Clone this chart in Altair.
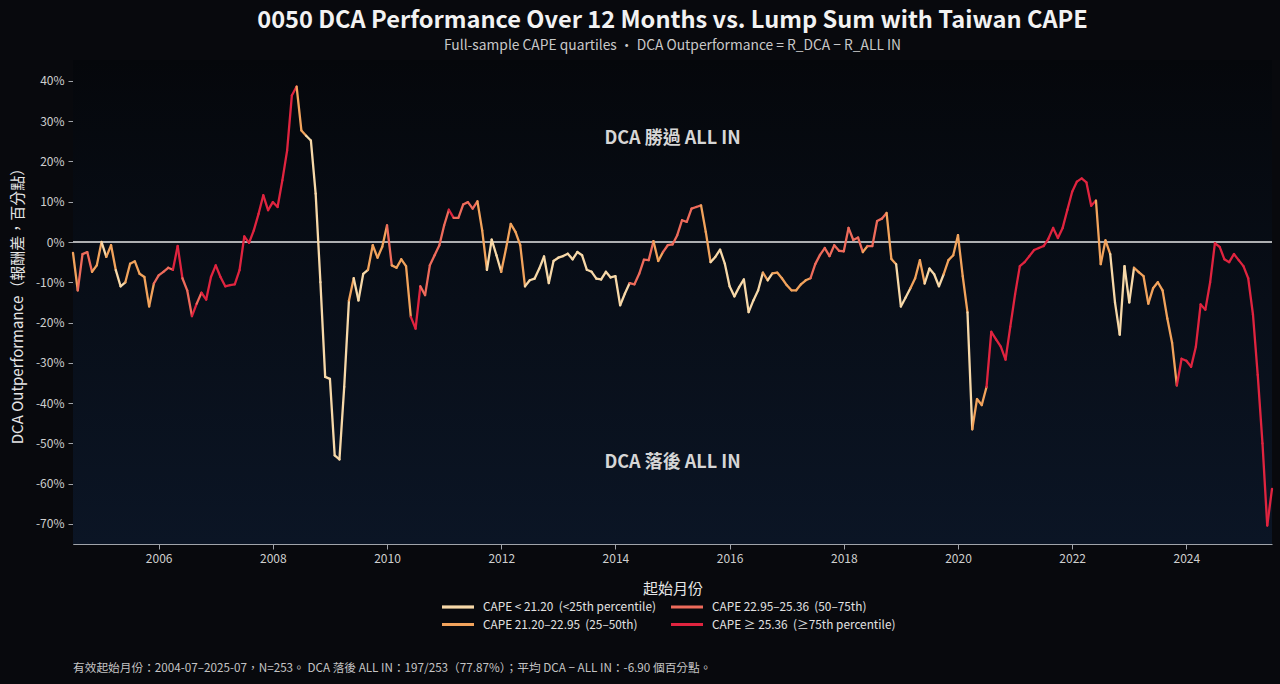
import altair as alt
import pandas as pd

FONT = "Noto Sans CJK TC"

# DCA - ALL IN, percentage points, one value per start month (2004-07 .. 2025-07)
values = [
    -2.7, -12.0, -3.0, -2.5, -7.4, -5.8, 0.0, -3.7, -0.8, -7.0,
    -11.0, -10.0, -5.4, -4.8, -7.9, -8.7, -16.0, -10.3, -8.3, -7.4,
    -6.4, -6.9, -1.0, -9.0, -12.0, -18.4, -15.3, -12.6, -14.3, -8.7,
    -5.8, -8.7, -11.0, -10.7, -10.5, -7.0, 1.4, -0.2, 2.9, 7.0,
    11.6, 7.9, 9.9, 8.7, 15.3, 22.7, 36.4, 38.6, 27.7, 26.4,
    25.2, 12.0, -10.0, -33.5, -34.0, -53.0, -54.0, -36.0, -14.5, -9.0,
    -14.5, -7.9, -6.9, -0.8, -3.9, -1.2, 4.1, -5.8, -6.4, -4.3,
    -6.0, -18.6, -21.5, -11.0, -13.2, -5.8, -3.3, -0.8, 4.1, 8.0,
    6.0, 6.0, 9.3, 9.9, 8.3, 10.1, 2.9, -6.9, 0.6, -3.3,
    -7.4, -1.7, 4.5, 2.5, -0.8, -11.0, -9.5, -9.1, -6.6, -3.6,
    -10.2, -4.7, -3.9, -3.5, -2.9, -4.3, -2.5, -3.3, -6.9, -7.4,
    -9.1, -9.3, -7.4, -8.8, -8.5, -15.7, -12.8, -10.2, -10.5, -7.9,
    -4.4, -4.5, 0.2, -4.7, -2.5, -0.8, -0.6, 1.7, 5.4, 5.0,
    8.3, 8.7, 9.1, 2.5, -5.0, -3.7, -1.9, -5.4, -11.0, -13.5,
    -11.2, -9.3, -17.4, -14.5, -12.0, -7.6, -9.5, -7.8, -7.6, -9.0,
    -10.7, -12.0, -12.0, -10.5, -9.5, -9.0, -5.5, -3.2, -1.5, -3.5,
    -0.8, -2.2, -2.3, 3.5, 0.5, 1.1, -2.5, -1.0, -1.0, 5.2,
    5.8, 7.2, -4.2, -5.5, -16.0, -13.8, -11.5, -9.0, -4.5, -10.3,
    -6.6, -8.0, -11.0, -8.0, -4.5, -3.3, 1.7, -8.5, -17.5, -46.5,
    -39.0, -40.5, -36.0, -22.3, -24.2, -26.0, -29.2, -21.0, -13.0, -6.0,
    -5.0, -3.5, -2.0, -1.5, -1.0, 0.8, 3.5, 1.0, 3.5, 8.0,
    12.5, 15.0, 15.8, 14.8, 9.0, 10.3, -5.5, 0.4, -3.0, -15.0,
    -23.0, -6.0, -15.0, -6.4, -7.5, -8.5, -15.3, -11.5, -10.0, -12.0,
    -19.0, -25.0, -35.6, -29.0, -29.5, -31.0, -26.0, -15.5, -16.8, -10.0,
    -0.3, -1.2, -4.3, -5.0, -3.0, -4.5, -6.0, -9.0, -18.0, -33.0,
    -50.0, -70.4, -61.3,
]

# CAPE quartile (1..4) of each start month
quartile = [
    2, 3, 3, 3, 2, 2, 1, 2, 2, 1,
    1, 2, 2, 2, 2, 2, 2, 3, 3, 3,
    3, 4, 4, 3, 3, 4, 3, 4, 4, 4,
    4, 4, 4, 4, 4, 4, 4, 4, 4, 4,
    4, 4, 4, 4, 4, 4, 4, 2, 2, 1,
    1, 1, 1, 1, 1, 1, 1, 1, 2, 1,
    1, 1, 2, 2, 2, 2, 3, 2, 2, 2,
    2, 4, 4, 3, 3, 3, 3, 3, 3, 4,
    3, 3, 3, 3, 3, 2, 2, 1, 1, 1,
    2, 2, 2, 2, 2, 1, 1, 1, 1, 1,
    1, 1, 1, 1, 1, 1, 1, 1, 1, 1,
    1, 1, 1, 1, 1, 1, 1, 3, 3, 3,
    3, 3, 2, 2, 3, 3, 3, 3, 3, 3,
    3, 3, 2, 2, 1, 1, 1, 1, 1, 1,
    1, 1, 1, 1, 1, 2, 1, 2, 2, 2,
    2, 2, 2, 2, 2, 3, 3, 3, 3, 3,
    3, 3, 3, 3, 3, 3, 2, 3, 3, 3,
    3, 2, 2, 1, 1, 1, 2, 2, 2, 1,
    1, 1, 1, 2, 2, 2, 2, 2, 1, 2,
    2, 2, 4, 4, 4, 4, 4, 4, 4, 4,
    4, 4, 4, 4, 4, 4, 4, 4, 4, 4,
    4, 4, 4, 4, 4, 2, 2, 2, 1, 1,
    1, 1, 1, 2, 2, 2, 2, 2, 2, 2,
    2, 2, 4, 4, 4, 4, 4, 4, 4, 4,
    4, 4, 4, 4, 4, 4, 4, 4, 4, 4,
    4, 4, 4,
]

cat_labels = {
    1: "CAPE < 21.20\u00a0 (<25th percentile)",
    2: "CAPE 21.20–22.95\u00a0 (25–50th)",
    3: "CAPE 22.95–25.36\u00a0 (50–75th)",
    4: "CAPE ≥ 25.36\u00a0 (≥75th percentile)",
}
cat_colors = {1: "#f7d8a8", 2: "#f2a35c", 3: "#ee6b5b", 4: "#e0243f"}
legend_order = [1, 2, 3, 4]  # vertical direction fills column by column

x_ticks = [2006, 2008, 2010, 2012, 2014, 2016, 2018, 2020, 2022, 2024]
y_ticks = [-70, -60, -50, -40, -30, -20, -10, 0, 10, 20, 30, 40]

notes = ["DCA 勝過 ALL IN", "DCA 落後 ALL IN"]
note_y = [25.6, -54.9]
note_x = [2015.0, 2015.0]

footer = ("有效起始月份：2004-07–2025-07，N=253。 DCA 落後 ALL IN：197/253（77.87%）；"
          "平均 DCA − ALL IN：-6.90 個百分點。")

# ---- build table of coloured segments ----
months = pd.date_range("2004-07-01", periods=len(values), freq="MS")
xpos = [m.year + (m.month - 1) / 12 for m in months]
rows = []
for i in range(len(values) - 1):
    for j in (i, i + 1):
        rows.append({"seg": i, "x": xpos[j], "v": values[j],
                     "cat": cat_labels[quartile[i]]})
seg_df = pd.DataFrame(rows)

W, H = 1199, 484
xscale = alt.Scale(domain=[2004.5, 2025.5], nice=False, zero=False)
yscale = alt.Scale(domain=[-75, 45.2], nice=False, zero=False)

bg = alt.Chart(pd.DataFrame({"a": [0]})).mark_rect(
    color=alt.Gradient(
        gradient="linear",
        stops=[alt.GradientStop(color="#05070b", offset=0),
               alt.GradientStop(color="#0b1525", offset=1)],
        x1=0, x2=0, y1=0, y2=1,
    )
).encode(x=alt.value(0), x2=alt.value(W), y=alt.value(0), y2=alt.value(H))

zero = alt.Chart(pd.DataFrame({"v": [0]})).mark_rule(
    color="#e6e6e6", strokeWidth=1.6
).encode(y=alt.Y("v:Q", scale=yscale))

line = alt.Chart(seg_df).mark_line(
    strokeWidth=2.3, strokeCap="round", strokeJoin="round"
).encode(
    x=alt.X("x:Q", scale=xscale,
            axis=alt.Axis(values=x_ticks, format="d", title="起始月份", grid=False,
                          labelFontSize=12, titleFontSize=15, titlePadding=17,
                          tickSize=5, labelPadding=4)),
    y=alt.Y("v:Q", scale=yscale,
            axis=alt.Axis(values=y_ticks, labelExpr="datum.value + '%'",
                          title="DCA Outperformance（報酬差，百分點）",
                          grid=True, gridDash=[2, 4], gridColor="#3e4550",
                          gridWidth=0.9, labelFontSize=12, titleFontSize=15,
                          titlePadding=10, tickSize=5, labelPadding=4)),
    color=alt.Color(
        "cat:N",
        title=None,
        scale=alt.Scale(domain=[cat_labels[k] for k in legend_order],
                        range=[cat_colors[k] for k in legend_order]),
        legend=alt.Legend(orient="none", legendX=367, legendY=539, columns=2,
                          direction="vertical",
                          symbolType="stroke", symbolStrokeWidth=3.2,
                          symbolSize=1024, clipHeight=16, labelFontSize=11.8,
                          labelColor="#e2e2e2", labelFont=FONT, labelLimit=400,
                          columnPadding=13, rowPadding=1.5, labelOffset=7),
    ),
    detail="seg:N",
)

ann = alt.Chart(pd.DataFrame({"x": note_x, "v": note_y, "t": notes})).mark_text(
    fontSize=18, fontWeight="bold", color="#d6d6d6", font=FONT
).encode(x=alt.X("x:Q", scale=xscale), y=alt.Y("v:Q", scale=yscale), text="t:N")

foot = alt.Chart(pd.DataFrame({"t": [footer]})).mark_text(
    align="left", baseline="middle", fontSize=11.7, color="#c4c4c4", font=FONT
).encode(x=alt.value(0), y=alt.value(608), text="t:N")

chart = alt.layer(bg, zero, line, ann, foot).properties(
    width=W, height=H,
    title=alt.TitleParams(
        text="0050 DCA Performance Over 12 Months vs. Lump Sum with Taiwan CAPE",
        subtitle="Full-sample CAPE quartiles · DCA Outperformance = R_DCA − R_ALL IN",
        fontSize=23.6, fontWeight="bold", color="#f2f2f2", font=FONT,
        subtitleFont=FONT, subtitleFontSize=13.8, subtitleColor="#c8c8c8",
        anchor="middle", frame="group", offset=7, subtitlePadding=7,
    ),
    autosize=alt.AutoSizeParams(type="none"),
    padding={"left": 73, "top": 60, "right": 6, "bottom": 136},
    background="#08090d",
).configure_view(
    strokeWidth=0
).configure_axis(
    domainColor="#a0a4aa", tickColor="#a0a4aa", labelColor="#cfcfcf",
    titleColor="#e6e6e6", labelFont=FONT, titleFont=FONT,
    titleFontWeight="normal", domainWidth=1,
).configure_text(font=FONT)

chart.save("out.html", embed_options={
    "renderer": "svg", "actions": False,
    "defaultStyle": "html,body{margin:0;padding:0;background:#08090d;overflow:hidden}",
})
